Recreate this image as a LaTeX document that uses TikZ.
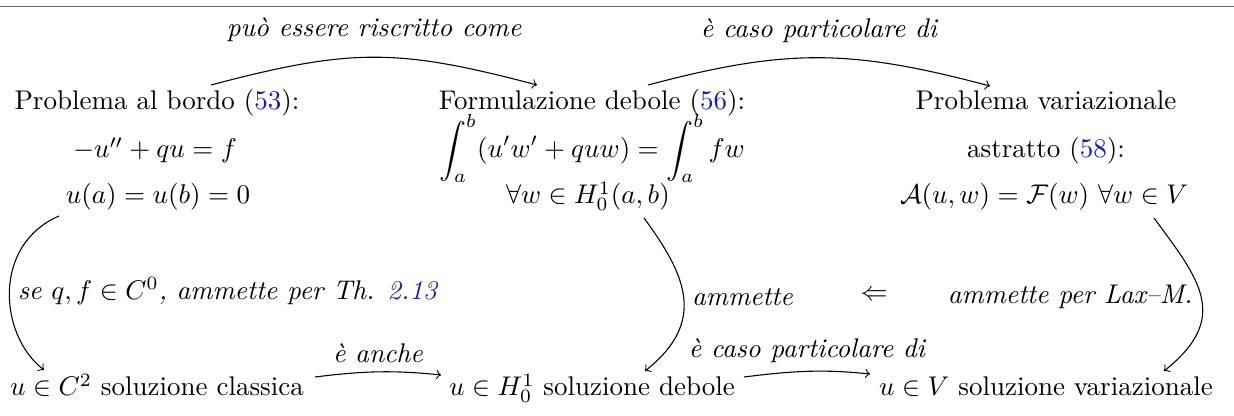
\documentclass[tikz,border=0pt]{standalone}
\usepackage{amsmath,amssymb}
\usetikzlibrary{calc}
\definecolor{refblue}{RGB}{25,25,190}
\newcommand{\rf}[1]{\textcolor{refblue}{#1}}
\begin{document}
\begin{tikzpicture}[x=0.37037pt,y=-0.37037pt,
  cell/.style={anchor=base,inner sep=0pt},
  lab/.style={font=\itshape,inner sep=0pt},
  arr/.style={->,line width=0.4pt}]
\useasboundingbox (0,0) rectangle (1234,416);
\draw[black!60,line width=0.5pt] (0,6.5) -- (1234,6.5);
% row 1-3 blocks
\node[cell] (a1) at (157,110) {Problema al bordo (\rf{53}):};
\node[cell] (a2) at (155,158) {$-u''+qu=f$};
\node[cell] (a3) at (158,204) {$u(a)=u(b)=0$};
\node[cell] (b1) at (592,110) {Formulazione debole (\rf{56}):};
\node[cell] (b2) at (592,158) {$\displaystyle\int_a^b (u'w'+quw) = \int_a^b fw$};
\node[cell] (b3) at (588,204) {$\forall w\in H^1_0(a,b)$};
\node[cell] (c1) at (1046,110) {Problema variazionale};
\node[cell] (c2) at (1046,158) {astratto (\rf{58}):};
\node[cell] (c3) at (1044,204) {$\mathcal{A}(u,w)=\mathcal{F}(w)\ \forall w\in V$};
% bottom row
\node[cell] (d1) at (157,396) {$u\in C^2$ soluzione classica};
\node[cell] (d2) at (592,396) {$u\in H^1_0$ soluzione debole};
\node[cell] (d3) at (1046,396) {$u\in V$ soluzione variazionale};
\node (impl) at (874,296) {$\Leftarrow$};
% top arrows
\draw[arr] ($(a1.base)+(54,-25)$) .. controls +(140,-37) and +(-140,-37) .. ($(b1.base)+(-55,-25)$)
  node[lab,midway,above=5.5pt] {può essere riscritto come};
\draw[arr] ($(b1.base)+(56,-25)$) .. controls +(140,-37) and +(-140,-37) .. ($(c1.base)+(-56,-24)$)
  node[lab,midway,above=5.5pt] {è caso particolare di};
% vertical arrows
\draw[arr] ($(a3.base)+(-99,12)$) .. controls +(-67,29) and +(-45,-35) .. ($(d1.base)+(-113,-26)$)
  node[lab,midway,right=3pt] {se $q,f\in C^0$, ammette per Th. \rf{2.13}};
\draw[arr] ($(b3.base)+(56,14)$) .. controls +(41,56) and +(63,-50) .. ($(d2.base)+(53,-25)$)
  node[lab,midway,right=3pt] {ammette};
\draw[arr] ($(c3.base)+(110,14)$) .. controls +(44,60) and +(68,-54) .. ($(d3.base)+(118,-25)$)
  node[lab,midway,left=3pt] {ammette per Lax--M.};
% bottom arrows
\draw[arr] ($(d1.base)+(158,-19)$) .. controls +(48,-6) and +(-48,-5) .. ($(d2.base)+(-151,-21)$)
  node[lab,midway,above=3pt] {è anche};
\draw[arr] ($(d2.base)+(152,-19)$) .. controls +(48,-6) and +(-48,-5) .. ($(d3.base)+(-176,-22)$)
  node[lab,midway,above=3pt] {è caso particolare di};
\end{tikzpicture}
\end{document}
